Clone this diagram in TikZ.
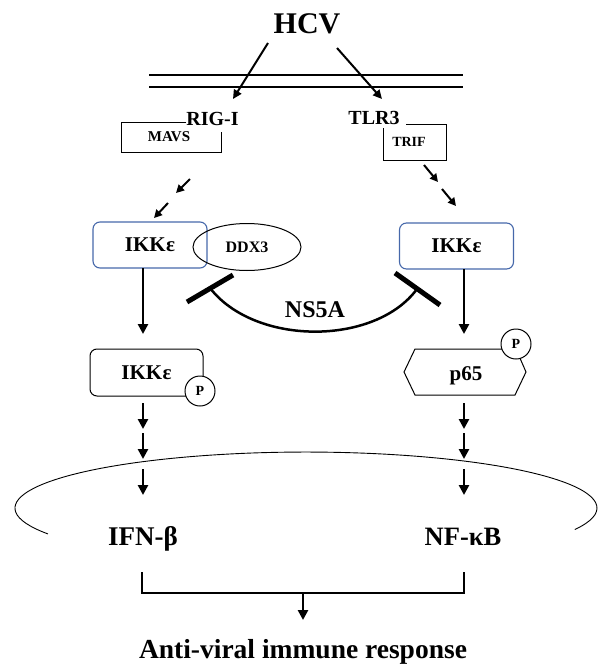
\documentclass[tikz,border=0pt]{standalone}
\usepackage{fontspec}
\setmainfont{Liberation Serif}
\usetikzlibrary{arrows.meta,shapes.geometric}
\definecolor{ikkblue}{HTML}{4668AA}
\newcommand{\myfs}[1]{\fontsize{#1}{#1}\selectfont}
\begin{document}
\begin{tikzpicture}[x=1pt,y=-1pt,
  lbl/.style={font=\bfseries, inner sep=0pt, anchor=base},
  arr/.style={line width=2.8pt, -{Triangle[length=10pt,width=10pt]}},
  sarr/.style={line width=2pt, -{Triangle[length=9pt,width=8.5pt]}},
  darr/.style={line width=2pt, -{Triangle[length=8pt,width=8pt]}},
  ikkbox/.style={draw=ikkblue, line width=1.1pt, rounded corners=7pt, minimum width=114pt, minimum height=46pt, inner sep=0pt, font=\bfseries\myfs{21}},
  pcirc/.style={circle, draw, fill=white, line width=1pt, minimum size=30pt, inner sep=0pt, font=\bfseries\myfs{14}},
  tbar/.style={line width=5pt},
  thin/.style={line width=1pt}]
\useasboundingbox (0,0) rectangle (598,664);

% HCV and membrane
\node[lbl, font=\bfseries\myfs{30}] (hcv) at (307,33) {HCV};
\coordinate (m1a) at (149,75); \coordinate (m1b) at (463,75);
\coordinate (m2a) at (149,87); \coordinate (m2b) at (463,87);
\draw[line width=2pt] (m1a) -- (m1b);
\draw[line width=2pt] (m2a) -- (m2b);
\coordinate (hL) at (268,43); \coordinate (hLt) at (233,99);
\coordinate (hR) at (337,48); \coordinate (hRt) at (382,99);
\draw[sarr] (hL) -- (hLt);
\draw[sarr] (hR) -- (hRt);

% receptors and adaptors
\node[lbl, font=\bfseries\myfs{20}] (rig) at (212.5,125) {RIG-I};
\node[lbl, font=\bfseries\myfs{20}] (tlr) at (374,124) {TLR3};
\draw[thin] (186,122) -- (121,122) -- (121,152) -- (221,152) -- (221,132);
\node[lbl, font=\bfseries\myfs{15}] (mavs) at (169,141) {MAVS};
\draw[thin] (406,124) -- (446,124) -- (446,160) -- (383,160) -- (383,128);
\node[lbl, font=\bfseries\myfs{14}] (trif) at (409,146) {TRIF};

% dashed arrows
\coordinate (dl1) at (190,179); \coordinate (dl2) at (176,193);
\coordinate (dl3) at (168,203); \coordinate (dl4) at (154,218);
\draw[darr] (dl1) -- (dl2);
\draw[darr] (dl3) -- (dl4);
\coordinate (dr1) at (424,165); \coordinate (dr2) at (438,182);
\coordinate (dr3) at (442,189); \coordinate (dr4) at (456,206);
\draw[darr] (dr1) -- (dr2);
\draw[darr] (dr3) -- (dr4);

% IKKe boxes and DDX3
\node[ikkbox] (ikk1) at (150,245) {IKK\kern0.5pt ε};
\node[ikkbox] (ikk2) at (456.5,246) {IKK\kern0.5pt ε};
\node[ellipse, draw, line width=1pt, minimum width=108pt, minimum height=47pt, inner sep=0pt, font=\bfseries\myfs{16}] (ddx) at (247,247) {DDX3};

% NS5A inhibition
\coordinate (tL) at (210,288); \coordinate (tR) at (417,289);
\draw[line width=2.5pt] (tL) .. controls (255,346) and (375,346) .. (tR);
\coordinate (tLa) at (187,302); \coordinate (tLb) at (233,275);
\coordinate (tRa) at (395,273); \coordinate (tRb) at (440,305);
\draw[tbar] (tLa) -- (tLb);
\draw[tbar] (tRa) -- (tRb);
\node[lbl, font=\bfseries\myfs{24}] (ns5a) at (315,317) {NS5A};

% vertical arrows to phosphorylated forms
\coordinate (v1a) at (143,268); \coordinate (v1b) at (143,334);
\coordinate (v2a) at (464,269); \coordinate (v2b) at (464,334);
\draw[arr] (v1a) -- (v1b);
\draw[arr] (v2a) -- (v2b);

% IKKe-P
\node[draw, line width=1pt, rounded corners=7pt, minimum width=113pt, minimum height=47pt, inner sep=0pt, font=\bfseries\myfs{21}] (ikkp) at (146.5,372.5) {IKK\kern0.5pt ε};
\node[pcirc] (p1) at (200,391) {P};

% p65
\coordinate (h1) at (404,372); \coordinate (h2) at (415,349); \coordinate (h3) at (516,349);
\coordinate (h4) at (526,372); \coordinate (h5) at (515,395); \coordinate (h6) at (415,395);
\draw[line width=1pt, line join=miter] (h1) -- (h2) -- (h3) -- (h4) -- (h5) -- (h6) -- cycle;
\node[lbl, font=\bfseries\myfs{21}] (p65) at (466,380) {p65};
\node[pcirc] (p2) at (516,344) {P};

% arrows down
\foreach \xx/\nm in {143/l, 464/r}{
  \coordinate (a1\nm) at (\xx,403); \coordinate (b1\nm) at (\xx,429);
  \coordinate (a2\nm) at (\xx,433); \coordinate (b2\nm) at (\xx,459);
  \coordinate (a3\nm) at (\xx,469); \coordinate (b3\nm) at (\xx,495);
  \draw[arr] (a1\nm) -- (b1\nm);
  \draw[arr] (a2\nm) -- (b2\nm);
  \draw[arr] (a3\nm) -- (b3\nm);
}

% nucleus
\coordinate (nucL) at (47.9,533.9);
\draw[line width=0.9pt] (nucL) arc[start angle=207.5, end angle=-22.5, x radius=291pt, y radius=56pt];

% outputs
\node[lbl, font=\bfseries\myfs{27}] (ifn) at (143,545) {IFN-β};
\node[lbl, font=\bfseries\myfs{26.5}] (nfkb) at (463,545) {NF-κB};
\coordinate (bl) at (142,572); \coordinate (blc) at (142,593);
\coordinate (br) at (464,572); \coordinate (brc) at (464,593);
\draw[line width=2.8pt, line join=miter] (bl) -- (blc) -- (brc) -- (br);
\coordinate (ba) at (303,593); \coordinate (bb) at (303,620);
\draw[arr] (ba) -- (bb);
\node[lbl, font=\bfseries\myfs{27.5}] (resp) at (303,658) {Anti-viral immune response};
\end{tikzpicture}
\end{document}
